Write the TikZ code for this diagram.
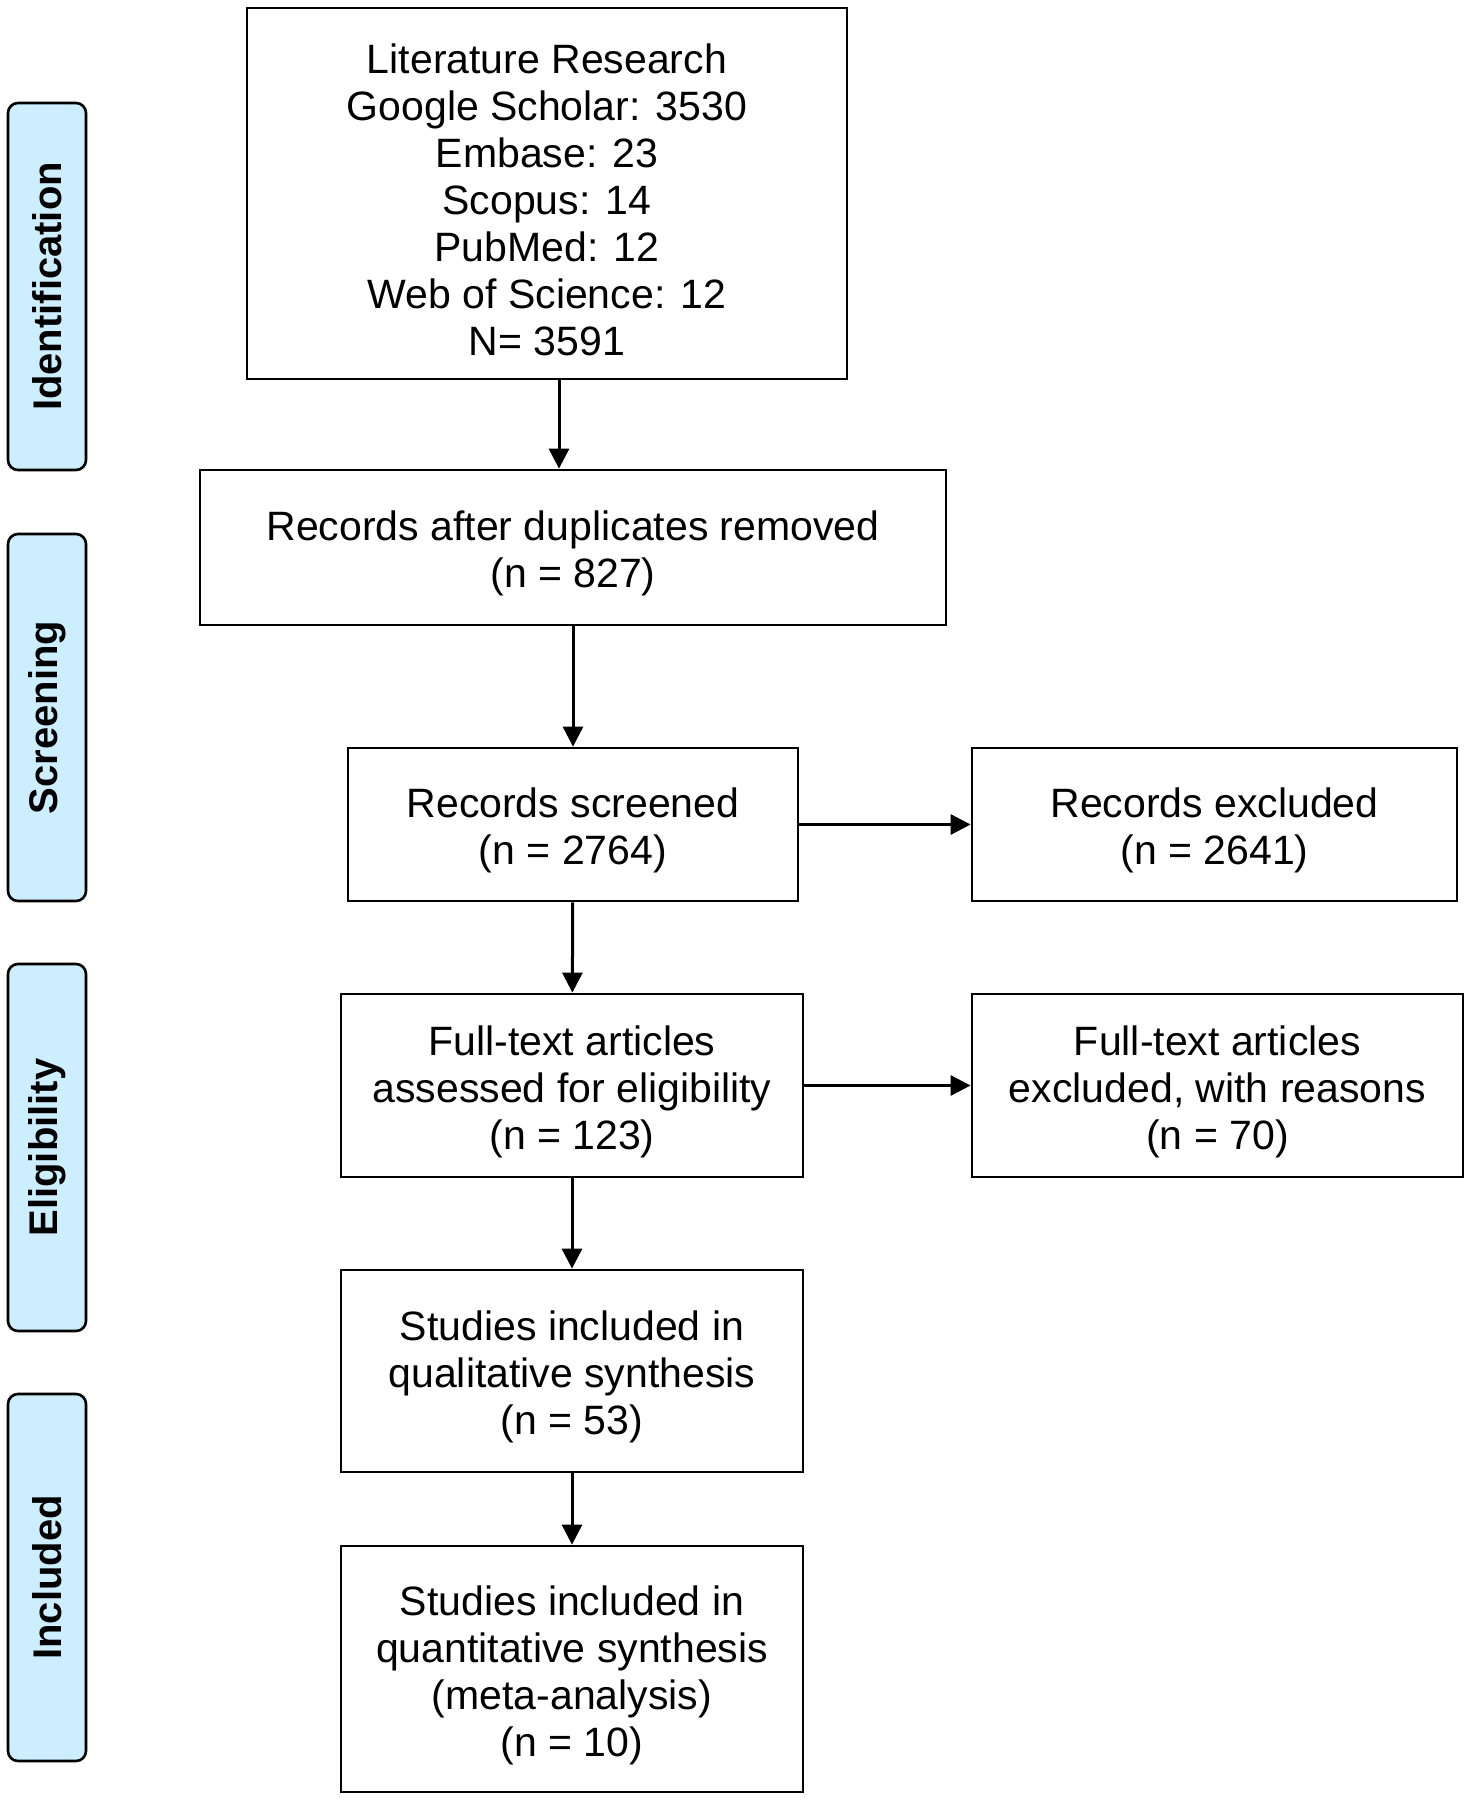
\documentclass[tikz,border=0pt]{standalone}
\usepackage{fontspec}
\setmainfont{Liberation Sans}
\usetikzlibrary{arrows.meta,calc,positioning}
\definecolor{phasefill}{RGB}{204,238,255}
\newcommand{\topgap}{\rule{0pt}{21pt}}

\begin{document}
\begin{tikzpicture}[x=0.5pt, y=-0.5pt, >={Triangle[length=10pt,width=10pt]},
  box/.style={draw, line width=1.4pt, align=center, inner sep=0pt,
    font=\fontsize{20.5}{23.5}\selectfont},
  phase/.style={draw, line width=1.3pt, rounded corners=5pt, fill=phasefill,
    rotate=90, inner sep=0pt, minimum width=183.5pt, minimum height=39pt,
    font=\bfseries\fontsize{20}{24}\selectfont},
  flow/.style={->, line width=1.5pt}]
  \useasboundingbox (0,0) rectangle (1470,1800);
  % phase labels
  \node[phase] (ident) at (47, 286.5) {Identification};
  \node[phase] (scrn) at (47, 717.5) {Screening};
  \node[phase] (elig) at (47, 1147.5) {Eligibility};
  \node[phase] (incl) at (47, 1577.5) {Included};
  % main column
  \node[box, minimum width=300pt, minimum height=185.5pt] (lit) at (547, 193.5)
    {\topgap Literature Research\\Google Scholar: 3530\\Embase: 23\\Scopus: 14\\PubMed: 12\\Web of Science: 12\\N= 3591};
  \node[box, minimum width=373pt, minimum height=77.5pt] (dup) at (573, 547.5)
    {\topgap Records after duplicates removed\\(n = 827)};
  \node[box, minimum width=225pt, minimum height=76.5pt] (scr) at (573, 824.5)
    {\topgap Records screened\\(n = 2764)};
  \node[box, minimum width=231pt, minimum height=91.5pt] (full) at (572, 1085.5)
    {\topgap Full-text articles\\assessed for eligibility\\(n = 123)};
  \node[box, minimum width=231pt, minimum height=101pt] (qual) at (572, 1371)
    {\topgap Studies included in\\qualitative synthesis\\(n = 53)};
  \node[box, minimum width=231pt, minimum height=123pt] (quant) at (572, 1669)
    {\topgap Studies included in\\quantitative synthesis\\(meta-analysis)\\(n = 10)};
  % excluded column
  \node[box, minimum width=242.5pt, minimum height=76.5pt] (recexc) at (1214.5, 824.5)
    {\topgap Records excluded\\(n = 2641)};
  \node[box, minimum width=245.5pt, minimum height=91.5pt] (fullexc) at (1217.5, 1085.5)
    {\topgap Full-text articles\\excluded, with reasons\\(n = 70)};
  % connectors
  \coordinate (litout) at ($(lit.south)+(12,0)$);
  \draw[flow] (litout) -- (litout |- dup.north);
  \draw[flow] (dup) -- (scr);
  \draw[flow] (scr) -- (full);
  \draw[flow] (full) -- (qual);
  \draw[flow] (qual) -- (quant);
  \draw[flow] (scr) -- (recexc);
  \draw[flow] (full) -- (fullexc);
\end{tikzpicture}
\end{document}
